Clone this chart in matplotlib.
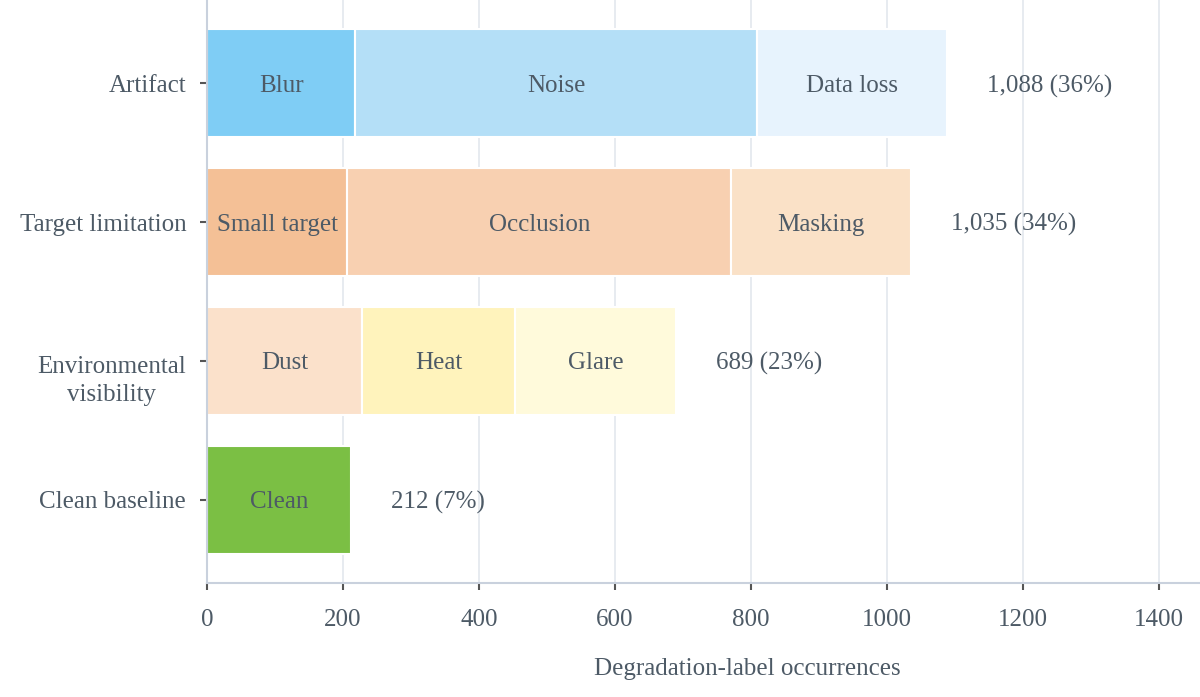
import numpy as np
import matplotlib.pyplot as plt
from matplotlib.transforms import ScaledTranslation

# category rows, top to bottom
categories = ['Artifact', 'Target limitation', 'Environmental\nvisibility', 'Clean baseline']

# segments per row: (label, count, colour)
segments = [
    [('Blur', 218, '#7fcdf5'), ('Noise', 591, '#b4dff7'), ('Data loss', 279, '#e7f3fd')],
    [('Small target', 206, '#f4c096'), ('Occlusion', 565, '#f8d0b1'), ('Masking', 264, '#fae1c7')],
    [('Dust', 228, '#fbe1cb'), ('Heat', 225, '#fff3bc'), ('Glare', 236, '#fffadb')],
    [('Clean', 212, '#7bbf44')],
]

text_color = '#4d5a66'
grid_color = '#e3e7ee'
spine_color = '#c9d1dd'

plt.rcParams['font.family'] = ['Liberation Serif', 'DejaVu Serif']

fig = plt.figure(figsize=(12, 6.97), dpi=100)
ax = fig.add_axes([207 / 1200, 114 / 697, 993 / 1200, 583 / 697])

totals = [sum(s[1] for s in row) for row in segments]
grand = sum(totals)
ypos = np.arange(len(categories))[::-1]

for y, row, tot in zip(ypos, segments, totals):
    left = 0
    for name, val, col in row:
        ax.barh(y, val, left=left, height=0.78, color=col,
                edgecolor='white', linewidth=1.5, zorder=2)
        ax.text(left + val / 2, y, name, ha='center', va='center_baseline',
                fontsize=18, color=text_color, zorder=3)
        left += val
    ax.annotate(f'{tot:,} ({tot / grand:.0%})', xy=(tot, y), xytext=(29, 0),
                textcoords='offset points', ha='left', va='center_baseline',
                fontsize=18, color=text_color)

ax.set_xlim(0, 1460)
ax.set_ylim(-0.6, 3.6)
ax.set_xticks(np.arange(0, 1401, 200))
ax.set_yticks(ypos)
ax.set_yticklabels(categories)
ax.xaxis.grid(True, color=grid_color, linewidth=1.2, zorder=0)
ax.set_axisbelow(True)

for side in ['top', 'right']:
    ax.spines[side].set_visible(False)
for side in ['left', 'bottom']:
    ax.spines[side].set_color(spine_color)
    ax.spines[side].set_linewidth(1.5)

ax.tick_params(axis='both', labelsize=18, colors='#555555', labelcolor=text_color,
               length=5, width=1.5)
ax.tick_params(axis='x', pad=14)
ax.tick_params(axis='y', pad=10)
for lbl in ax.get_yticklabels():
    lbl.set_multialignment('center')
    if '\n' in lbl.get_text():
        # first line sits on the tick, second line below it
        lbl.set_linespacing(1.35)
        lbl.set_transform(lbl.get_transform() + ScaledTranslation(0, -15 / 100, fig.dpi_scale_trans))

ax.set_xlabel('Degradation-label occurrences', fontsize=18, color=text_color)
ax.xaxis.set_label_coords((747 - 207) / 993, -0.128)

fig.savefig('out.png', dpi=100)
